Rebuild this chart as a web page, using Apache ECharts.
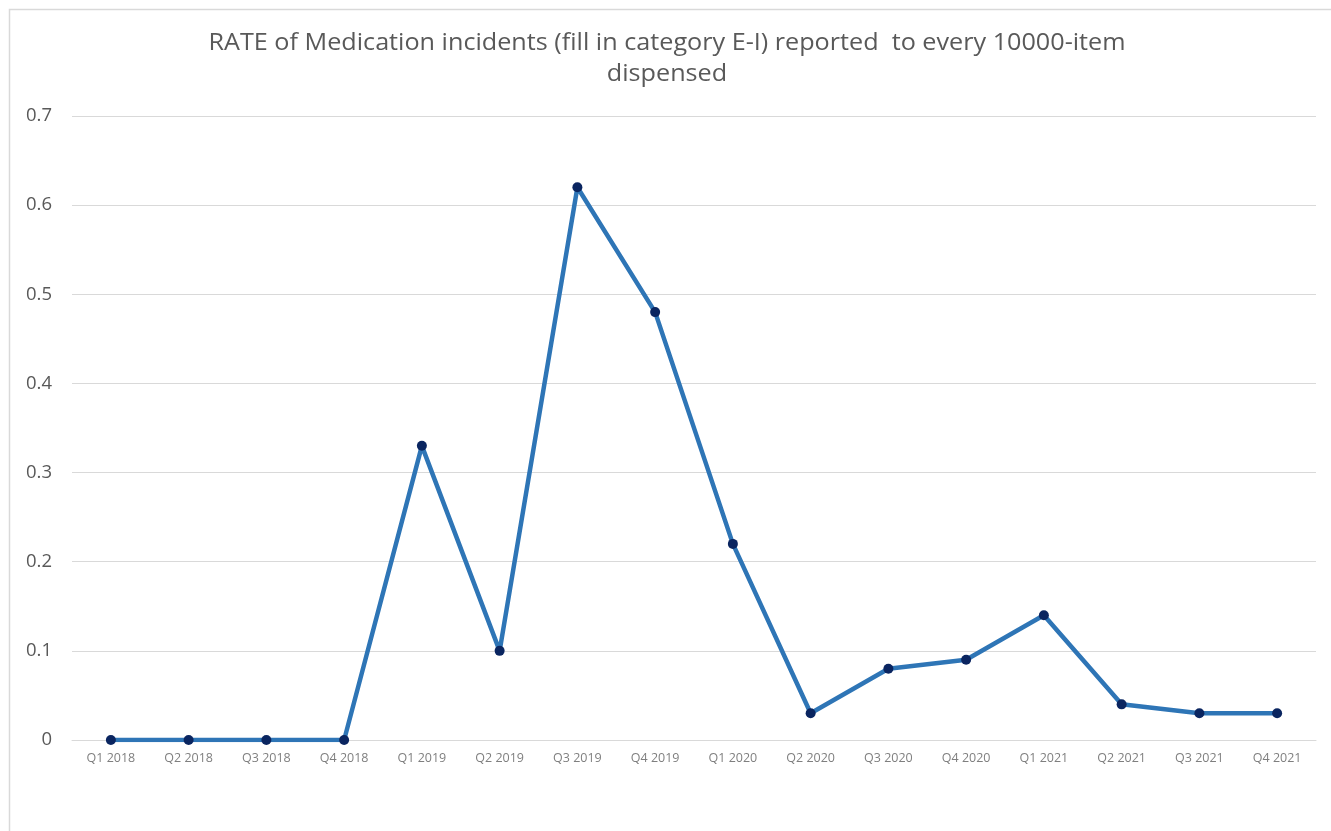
<!DOCTYPE html>
<html>
<head>
<meta charset="utf-8">
<script src="https://cdn.jsdelivr.net/npm/echarts@6/dist/echarts.min.js"></script>
<style>
  html, body { margin: 0; padding: 0; background: #ffffff; }
  #chart { width: 1331px; height: 831px; }
</style>
</head>
<body>
<div id="chart"></div>
<script>
// Quarterly reporting periods
const quarters = [
  'Q1 2018', 'Q2 2018', 'Q3 2018', 'Q4 2018',
  'Q1 2019', 'Q2 2019', 'Q3 2019', 'Q4 2019',
  'Q1 2020', 'Q2 2020', 'Q3 2020', 'Q4 2020',
  'Q1 2021', 'Q2 2021', 'Q3 2021', 'Q4 2021'
];

// Incidents (category E-I) per 10000 items dispensed
const rates = [0, 0, 0, 0, 0.33, 0.10, 0.62, 0.48, 0.22, 0.03, 0.08, 0.09, 0.14, 0.04, 0.03, 0.03];

const titleLines = [
  'RATE of Medication incidents (fill in category E-I) reported  to every 10000-item',
  'dispensed'
];

const chart = echarts.init(document.getElementById('chart'), null, { renderer: 'canvas' });

chart.setOption({
  backgroundColor: '#ffffff',
  animation: false,
  graphic: [
    {
      type: 'rect',
      shape: { x: 9.5, y: 9.5, width: 1340, height: 840 },
      style: { fill: 'none', stroke: '#d9d9d9', lineWidth: 1.5 },
      silent: true
    },
    {
      // two-line title, slightly widened
      type: 'text',
      x: 667,
      y: 28,
      scaleX: 1.095,
      style: {
        text: titleLines.join('\n'),
        align: 'center',
        verticalAlign: 'top',
        fontFamily: 'Open Sans',
        fontSize: 23,
        lineHeight: 31,
        fill: '#595959'
      },
      silent: true
    }
  ],
  grid: { left: 72, right: 15, top: 116, bottom: 91, containLabel: false },
  xAxis: {
    type: 'category',
    data: quarters,
    boundaryGap: true,
    axisLine: { show: true, lineStyle: { color: '#d9d9d9', width: 1 } },
    axisTick: { show: false },
    axisLabel: {
      interval: 0,
      margin: 12,
      fontFamily: 'Open Sans',
      fontSize: 12.5,
      color: '#7f7f7f'
    }
  },
  yAxis: {
    type: 'value',
    min: 0,
    max: 0.7,
    interval: 0.1,
    axisLine: { show: false },
    axisTick: { show: false },
    axisLabel: {
      margin: 20,
      fontFamily: 'Open Sans',
      fontSize: 18.5,
      color: '#595959',
      formatter: v => String(Math.round(v * 10) / 10)
    },
    splitLine: { lineStyle: { color: '#d9d9d9', width: 1 } }
  },
  series: [{
    type: 'line',
    data: rates,
    symbol: 'circle',
    symbolSize: 10,
    lineStyle: { color: '#2e75b6', width: 4.5 },
    itemStyle: { color: '#0a2560', borderWidth: 0 },
    z: 3
  }]
});
</script>
</body>
</html>
